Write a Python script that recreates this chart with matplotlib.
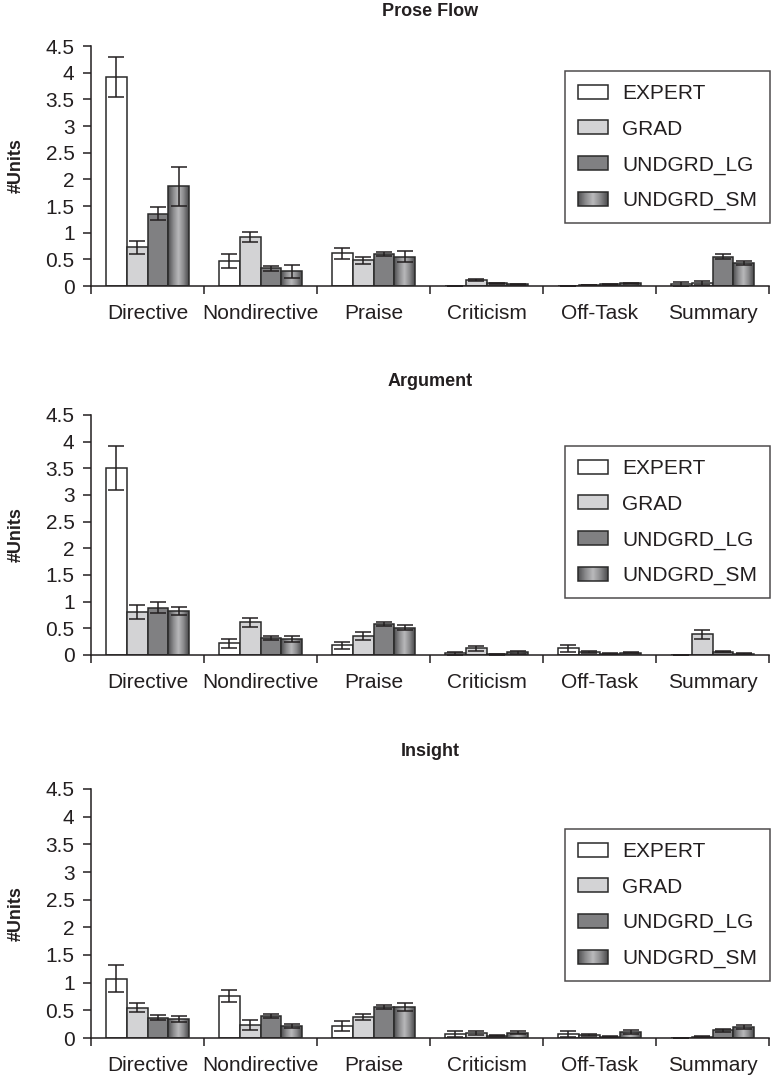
import matplotlib
matplotlib.use("Agg")
import matplotlib.pyplot as plt
import numpy as np
from matplotlib.colors import LinearSegmentedColormap
from matplotlib.legend_handler import HandlerBase
from matplotlib.patches import Patch, Rectangle

plt.rcParams['font.family'] = ['Liberation Sans', 'DejaVu Sans']

categories = ["Directive", "Nondirective", "Praise", "Criticism", "Off-Task", "Summary"]
groups = ["EXPERT", "GRAD", "UNDGRD_LG", "UNDGRD_SM"]
panel_titles = ["Prose Flow", "Argument", "Insight"]
y_ticks = [0, 0.5, 1, 1.5, 2, 2.5, 3, 3.5, 4, 4.5]

# Prose Flow
prose_expert = [3.92, 0.47, 0.61, 0.005, 0.005, 0.03]
prose_expert_err = [0.37, 0.125, 0.095, 0.0, 0.0, 0.045]
prose_grad = [0.725, 0.92, 0.48, 0.11, 0.02, 0.06]
prose_grad_err = [0.125, 0.10, 0.06, 0.02, 0.005, 0.035]
prose_lg = [1.355, 0.33, 0.60, 0.05, 0.03, 0.55]
prose_lg_err = [0.12, 0.04, 0.035, 0.01, 0.01, 0.05]
prose_sm = [1.87, 0.275, 0.55, 0.03, 0.05, 0.43]
prose_sm_err = [0.37, 0.125, 0.10, 0.01, 0.01, 0.045]

# Argument
arg_expert = [3.50, 0.22, 0.18, 0.03, 0.13, 0.0]
arg_expert_err = [0.41, 0.08, 0.07, 0.03, 0.065, 0.0]
arg_grad = [0.80, 0.61, 0.36, 0.125, 0.06, 0.39]
arg_grad_err = [0.13, 0.08, 0.07, 0.045, 0.02, 0.085]
arg_lg = [0.89, 0.32, 0.575, 0.01, 0.025, 0.06]
arg_lg_err = [0.10, 0.03, 0.035, 0.005, 0.01, 0.01]
arg_sm = [0.83, 0.30, 0.51, 0.05, 0.04, 0.025]
arg_sm_err = [0.075, 0.05, 0.05, 0.025, 0.01, 0.01]

# Insight
ins_expert = [1.07, 0.76, 0.22, 0.07, 0.065, 0.0]
ins_expert_err = [0.245, 0.115, 0.09, 0.055, 0.055, 0.0]
ins_grad = [0.55, 0.235, 0.385, 0.085, 0.05, 0.025]
ins_grad_err = [0.08, 0.09, 0.055, 0.035, 0.02, 0.005]
ins_lg = [0.37, 0.40, 0.56, 0.04, 0.025, 0.14]
ins_lg_err = [0.045, 0.035, 0.035, 0.01, 0.005, 0.03]
ins_sm = [0.34, 0.22, 0.56, 0.095, 0.11, 0.20]
ins_sm_err = [0.055, 0.04, 0.065, 0.03, 0.03, 0.04]

panels = [
    ([prose_expert, prose_grad, prose_lg, prose_sm],
     [prose_expert_err, prose_grad_err, prose_lg_err, prose_sm_err]),
    ([arg_expert, arg_grad, arg_lg, arg_sm],
     [arg_expert_err, arg_grad_err, arg_lg_err, arg_sm_err]),
    ([ins_expert, ins_grad, ins_lg, ins_sm],
     [ins_expert_err, ins_grad_err, ins_lg_err, ins_sm_err]),
]

TXT = "#231f20"
EDGE = "#2a2a2a"
fills = ["#ffffff", "#d3d3d5", "#808082", None]
sm_cmap = LinearSegmentedColormap.from_list("sm", ["#4e4e50", "#8a8a8c", "#b9b9bb", "#8a8a8c", "#4a4a4c"])

W, H = 773, 1082
fig = plt.figure(figsize=(W / 100, H / 100), dpi=100)

# axes boxes in pixels: (top, bottom)
boxes = [(46, 286), (415, 655), (789, 1038)]
title_y = [12, 382, 752]
legend_top = [71, 446, 829]
ax_left, ax_right = 91, 769


class GradientHandler(HandlerBase):
    def create_artists(self, legend, orig_handle, xdescent, ydescent, width, height, fontsize, trans):
        arts = []
        n = 30
        for k in range(n):
            arts.append(Rectangle((-xdescent + width * k / n, -ydescent), width / n + 0.2, height,
                                  facecolor=sm_cmap((k + 0.5) / n), edgecolor='none', transform=trans))
        arts.append(Rectangle((-xdescent, -ydescent), width, height, facecolor='none',
                              edgecolor=EDGE, lw=1.1, transform=trans))
        return arts


x = np.arange(len(categories))
bw = 0.183

for p, (vals, errs) in enumerate(panels):
    top, bot = boxes[p]
    ax = fig.add_axes([ax_left / W, (H - bot) / H, (ax_right - ax_left) / W, (bot - top) / H])
    for g in range(4):
        pos = x + (g - 1.5) * bw
        if fills[g] is not None:
            ax.bar(pos, vals[g], width=bw, facecolor=fills[g], edgecolor=EDGE, linewidth=1.1, zorder=2)
        else:
            bars = ax.bar(pos, vals[g], width=bw, facecolor='none', edgecolor=EDGE, linewidth=1.1, zorder=3)
            grad = np.linspace(0, 1, 64).reshape(1, -1)
            for b in bars:
                bx, by = b.get_x(), b.get_y()
                im = ax.imshow(grad, extent=[bx, bx + b.get_width(), by, by + b.get_height()],
                               aspect='auto', cmap=sm_cmap, zorder=2, interpolation='bilinear')
                im.set_clip_path(b)
        ax.errorbar(pos, vals[g], yerr=errs[g], fmt='none', ecolor=TXT, elinewidth=1.1,
                    capsize=5.5, capthick=1.1, zorder=4)

    ax.set_xlim(-0.5, len(categories) - 0.5)
    ax.set_ylim(0, 4.5)
    ax.set_yticks(y_ticks)
    ax.set_yticklabels([f"{t:g}" for t in y_ticks])
    ax.set_xticks(np.arange(len(categories) + 1) - 0.5)
    ax.set_xticklabels([])
    ax.set_xticks(x, minor=True)
    ax.set_xticklabels(categories, minor=True)
    ax.tick_params(axis='x', which='major', direction='out', length=6, width=1.1, color=TXT)
    ax.tick_params(axis='x', which='minor', length=0, pad=13, labelsize=15, labelcolor=TXT)
    ax.tick_params(axis='y', direction='out', length=5.8, width=1.1, color=TXT, pad=6,
                   labelsize=15, labelcolor=TXT)
    for s in ['top', 'right']:
        ax.spines[s].set_visible(False)
    for s in ['left', 'bottom']:
        ax.spines[s].set_color(TXT)
        ax.spines[s].set_linewidth(1.1)

    fig.text((ax_left + ax_right) / 2 / W, 1 - title_y[p] / H, panel_titles[p],
             ha='center', va='center', fontsize=13, fontweight='bold', color=TXT)
    fig.text(16 / W, 1 - (top + bot) / 2 / H, "#Units", rotation=90,
             ha='center', va='center', fontsize=13, fontweight='bold', color=TXT)

    handles = [Patch(facecolor=fills[g], edgecolor=EDGE, linewidth=1.1) for g in range(3)]
    sm_handle = Patch(facecolor='gray', edgecolor=EDGE)
    handles.append(sm_handle)
    leg = ax.legend(handles, groups, loc='upper right',
                    bbox_to_anchor=(770 / W, 1 - legend_top[p] / H), bbox_transform=fig.transFigure,
                    borderaxespad=0, fontsize=15, frameon=True, fancybox=False, shadow=False,
                    handlelength=1.44, handleheight=0.66, handletextpad=0.67,
                    labelspacing=0.80, borderpad=0.62,
                    handler_map={sm_handle: GradientHandler()})
    leg.get_frame().set_edgecolor(TXT)
    leg.get_frame().set_linewidth(1.1)
    for t in leg.get_texts():
        t.set_color(TXT)

fig.savefig("out.png", dpi=100)
